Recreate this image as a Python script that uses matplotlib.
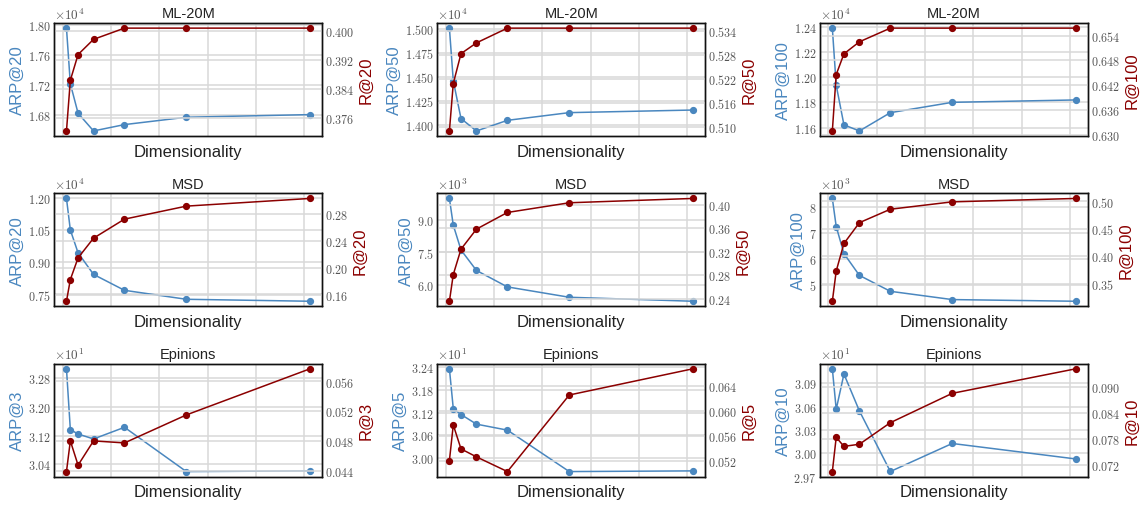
import matplotlib
matplotlib.use("Agg")
import matplotlib.pyplot as plt
from matplotlib.ticker import ScalarFormatter

plt.rcParams['font.family'] = 'serif'
plt.rcParams['font.serif'] = ['cmr10', 'DejaVu Serif']
plt.rcParams['mathtext.fontset'] = 'cm'
plt.rcParams['axes.formatter.use_mathtext'] = True
plt.rcParams['axes.unicode_minus'] = False

SANS = 'Liberation Sans'
BLUE = '#4a87bf'
RED = '#8b0000'

dims = [16, 32, 64, 128, 256, 512, 1024]
x_ticks = [0, 200, 400, 600, 800, 1000]

titles = ['ML-20M', 'ML-20M', 'ML-20M', 'MSD', 'MSD', 'MSD', 'Epinions', 'Epinions', 'Epinions']
left_labels = ['ARP@20', 'ARP@50', 'ARP@100', 'ARP@20', 'ARP@50', 'ARP@100', 'ARP@3', 'ARP@5', 'ARP@10']
right_labels = ['R@20', 'R@50', 'R@100', 'R@20', 'R@50', 'R@100', 'R@3', 'R@5', 'R@10']

arp_ml20_20 = [17964, 17218, 16822, 16585, 16670, 16769, 16804]
arp_ml20_50 = [15005, 14459, 14066, 13938, 14048, 14128, 14155]
arp_ml20_100 = [12389, 11936, 11621, 11573, 11718, 11800, 11819]
arp_msd_20 = [11970, 10500, 9433, 8428, 7686, 7268, 7176]
arp_msd_50 = [10010, 8767, 7609, 6656, 5891, 5409, 5223]
arp_msd_100 = [8347, 7257, 6206, 5360, 4742, 4421, 4356]
arp_epi_3 = [33.07, 31.367, 31.246, 31.107, 31.433, 30.195, 30.214]
arp_epi_5 = [32.348, 31.305, 31.148, 30.895, 30.738, 29.651, 29.669]
arp_epi_10 = [31.087, 30.566, 31.019, 30.545, 29.767, 30.127, 29.928]

rec_ml20_20 = [0.3725, 0.3865, 0.3936, 0.3978, 0.4009, 0.4009, 0.4009]
rec_ml20_50 = [0.5089, 0.5208, 0.5283, 0.5310, 0.5347, 0.5347, 0.5347]
rec_ml20_100 = [0.6310, 0.6446, 0.6496, 0.6525, 0.6558, 0.6558, 0.6558]
rec_msd_20 = [0.150, 0.1825, 0.215, 0.2445, 0.273, 0.2925, 0.304]
rec_msd_50 = [0.2354, 0.2811, 0.3246, 0.3589, 0.3874, 0.404, 0.4114]
rec_msd_100 = [0.3183, 0.3732, 0.4232, 0.461, 0.4854, 0.4988, 0.505]
rec_epi_3 = [0.0439, 0.0480, 0.04476, 0.0480, 0.04773, 0.05147, 0.05764]
rec_epi_5 = [0.0520, 0.0577, 0.05387, 0.05259, 0.05024, 0.0625, 0.0667]
rec_epi_10 = [0.07046, 0.0784, 0.0763, 0.0768, 0.0818, 0.0886, 0.0943]

arp_series = [arp_ml20_20, arp_ml20_50, arp_ml20_100, arp_msd_20, arp_msd_50,
              arp_msd_100, arp_epi_3, arp_epi_5, arp_epi_10]
rec_series = [rec_ml20_20, rec_ml20_50, rec_ml20_100, rec_msd_20, rec_msd_50,
              rec_msd_100, rec_epi_3, rec_epi_5, rec_epi_10]

left_ticks = [
    [16800, 17200, 17600, 18000],
    [14000, 14250, 14500, 14750, 15000],
    [11600, 11800, 12000, 12200, 12400],
    [7500, 9000, 10500, 12000],
    [6000, 7500, 9000],
    [5000, 6000, 7000, 8000],
    [30.4, 31.2, 32.0, 32.8],
    [30.0, 30.6, 31.2, 31.8, 32.4],
    [29.7, 30.0, 30.3, 30.6, 30.9],
]
right_ticks = [
    [0.376, 0.384, 0.392, 0.400],
    [0.510, 0.516, 0.522, 0.528, 0.534],
    [0.630, 0.636, 0.642, 0.648, 0.654],
    [0.16, 0.20, 0.24, 0.28],
    [0.24, 0.28, 0.32, 0.36, 0.40],
    [0.35, 0.40, 0.45, 0.50],
    [0.044, 0.048, 0.052, 0.056],
    [0.052, 0.056, 0.060, 0.064],
    [0.072, 0.078, 0.084, 0.090],
]

fig, axes = plt.subplots(3, 3, figsize=(11.43, 5.06), dpi=100)
fig.subplots_adjust(left=0.0475, right=0.952, top=0.9526, bottom=0.0559,
                    wspace=0.429, hspace=0.506)

GRID = '#d9d9d9'
TICKC = '#555555'

for i, ax in enumerate(axes.flat):
    ax2 = ax.twinx()
    ax.plot(dims, arp_series[i], color=BLUE, marker='o', markersize=4.2, linewidth=1.1, zorder=3)
    ax2.plot(dims, rec_series[i], color=RED, marker='o', markersize=4.2, linewidth=1.1, zorder=3)

    ax.set_xticks(x_ticks)
    ax.set_xticklabels([])
    ax.set_yticks(left_ticks[i])
    ax2.set_yticks(right_ticks[i])

    fmt = ScalarFormatter(useMathText=True)
    fmt.set_powerlimits((0, 0))
    ax.yaxis.set_major_formatter(fmt)
    fmt2 = ScalarFormatter(useMathText=True, useOffset=False)
    ax2.yaxis.set_major_formatter(fmt2)

    for a in (ax, ax2):
        a.grid(True, axis='y', color=GRID, linewidth=1.1, zorder=0)
        a.tick_params(axis='both', length=0, labelsize=8.7, colors=TICKC, pad=2.5)
        for s in a.spines.values():
            s.set_color('#111111')
            s.set_linewidth(1.0)
    ax2.tick_params(axis='y', pad=2)
    ax.grid(True, axis='x', color=GRID, linewidth=1.1, zorder=0)
    ax.set_axisbelow(True)
    ax.yaxis.get_offset_text().set_fontsize(9.5)
    ax.yaxis.get_offset_text().set_color(TICKC)

    ax.set_title(titles[i], fontsize=10.5, family=SANS, color='#222222', pad=4)
    ax.set_xlabel('Dimensionality', fontsize=12, family=SANS, color='#222222', labelpad=3)
    ax.set_ylabel(left_labels[i], fontsize=12, family=SANS, color=BLUE, labelpad=2)
    ax2.set_ylabel(right_labels[i], fontsize=12, family=SANS, color=RED, labelpad=3)

fig.savefig('out.png', dpi=100)
